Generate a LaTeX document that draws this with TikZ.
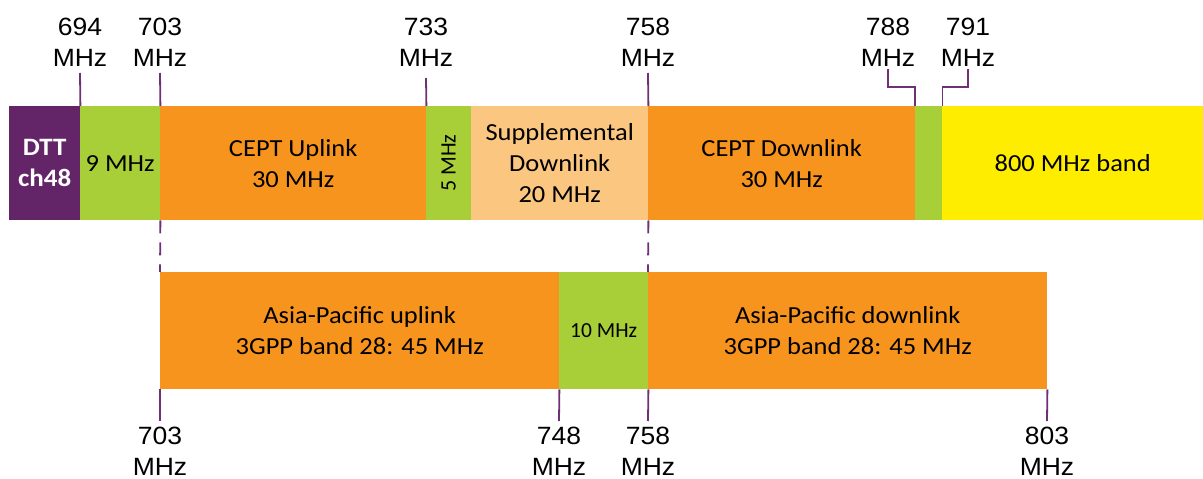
\documentclass[tikz,border=0pt]{standalone}
\usepackage{fontspec}
\setmainfont{Liberation Sans}
\newfontfamily\calfont{Carlito}
\newcommand\hs[1]{\scalebox{1.08}[1]{#1}}
\newcommand\ha[1]{\scalebox{1.06}[1]{#1}}
\definecolor{dttc}{RGB}{99,37,103}
\definecolor{grn}{RGB}{168,206,56}
\definecolor{org}{RGB}{247,148,30}
\definecolor{lorg}{RGB}{250,198,128}
\definecolor{yel}{RGB}{255,237,0}
\definecolor{tickc}{RGB}{112,48,120}
\begin{document}
\begin{tikzpicture}[x=1pt,y=-1pt,
  band/.style={draw=none, inner sep=0pt, anchor=north west, align=center,
    minimum height=114pt, font=\calfont\fontsize{24.5}{31}\selectfont, text=black},
  lowband/.style={band, minimum height=117pt},
  freq/.style={inner sep=0pt, anchor=north, align=center, font=\fontsize{25}{31}\selectfont},
  tick/.style={draw=tickc, line width=1.8pt},
  dtick/.style={tick, dash pattern=on 13pt off 9pt}]
\useasboundingbox (0,0) rectangle (1203,479);
% top bar
\node[band, fill=dttc, minimum width=71pt, text=white,
  font=\calfont\bfseries\fontsize{25}{31}\selectfont] (dtt) at (9,106) {\hs{DTT}\\\hs{ch48}};
\node[band, fill=grn, minimum width=80pt] (g1) at (80,106) {\hs{9 MHz}};
\node[band, fill=org, minimum width=266pt] (cu) at (160,106) {\hs{CEPT Uplink}\\\hs{30 MHz}};
\node[band, fill=grn, minimum width=45pt] (g2) at (426,106) {};
\node[inner sep=0pt, rotate=90, font=\calfont\fontsize{22}{26}\selectfont] (g2t) at (g2.center) {5 MHz};
\node[band, fill=lorg, minimum width=177pt] (sd) at (471,106) {\hs{Supplemental}\\\hs{Downlink}\\\hs{20 MHz}};
\node[band, fill=org, minimum width=267pt] (cd) at (648,106) {\hs{CEPT Downlink}\\\hs{30 MHz}};
\node[band, fill=grn, minimum width=27pt] (g3) at (915,106) {};
\node[band, fill=yel, minimum width=261pt] (b800) at (942,106) {\hs{800 MHz band}};
% bottom bar
\node[lowband, fill=org, minimum width=399pt] (apu) at (160,272) {\hs{Asia-Pacific uplink}\\\hs{3GPP band 28: 45 MHz}};
\node[lowband, fill=grn, minimum width=89pt, font=\calfont\fontsize{21.5}{26}\selectfont] (g4) at (559,272) {10 MHz};
\node[lowband, fill=org, minimum width=399pt] (apd) at (648,272) {\hs{Asia-Pacific downlink}\\\hs{3GPP band 28: 45 MHz}};
% top labels
\node[freq] (l694) at (80,17.5) {\ha{694}\\\ha{MHz}};
\node[freq] (l703) at (160,17.5) {\ha{703}\\\ha{MHz}};
\node[freq] (l733) at (426,17.5) {\ha{733}\\\ha{MHz}};
\node[freq] (l758) at (648,17.5) {\ha{758}\\\ha{MHz}};
\node[freq] (l788) at (888,17.5) {\ha{788}\\\ha{MHz}};
\node[freq] (l791) at (968,17.5) {\ha{791}\\\ha{MHz}};
% bottom labels
\node[freq] (b703) at (160,427) {\ha{703}\\\ha{MHz}};
\node[freq] (b748) at (559,427) {\ha{748}\\\ha{MHz}};
\node[freq] (b758) at (648,427) {\ha{758}\\\ha{MHz}};
\node[freq] (b803) at (1047,427) {\ha{803}\\\ha{MHz}};
% tick ends
\coordinate (t694) at (80,73);
\coordinate (t703) at (160,73);
\coordinate (t733) at (426,78);
\coordinate (t758) at (648,73);
\coordinate (t788) at (888,69);
\coordinate (t791) at (968,69);
\coordinate (u703) at (160,421);
\coordinate (u748) at (559,421);
\coordinate (u758) at (648,421);
\coordinate (u803) at (1047,421);
% ticks
\draw[tick] (dtt.north east) -- (t694);
\draw[tick] (g1.north east) -- (t703);
\draw[tick] (cu.north east) -- (t733);
\draw[tick] (sd.north east) -- (t758);
\draw[tick] (g3.north west) -- ++(0,-19) -| (t788);
\draw[tick] (g3.north east) -- ++(0,-19) -| (t791);
\draw[dtick] (g1.south east) -- (apu.north west);
\draw[dtick] (sd.south east) -- (apd.north west);
\draw[tick] (apu.south west) -- (u703);
\draw[tick] (apu.south east) -- (u748);
\draw[tick] (g4.south east) -- (u758);
\draw[tick] (apd.south east) -- (u803);
\end{tikzpicture}
\end{document}
